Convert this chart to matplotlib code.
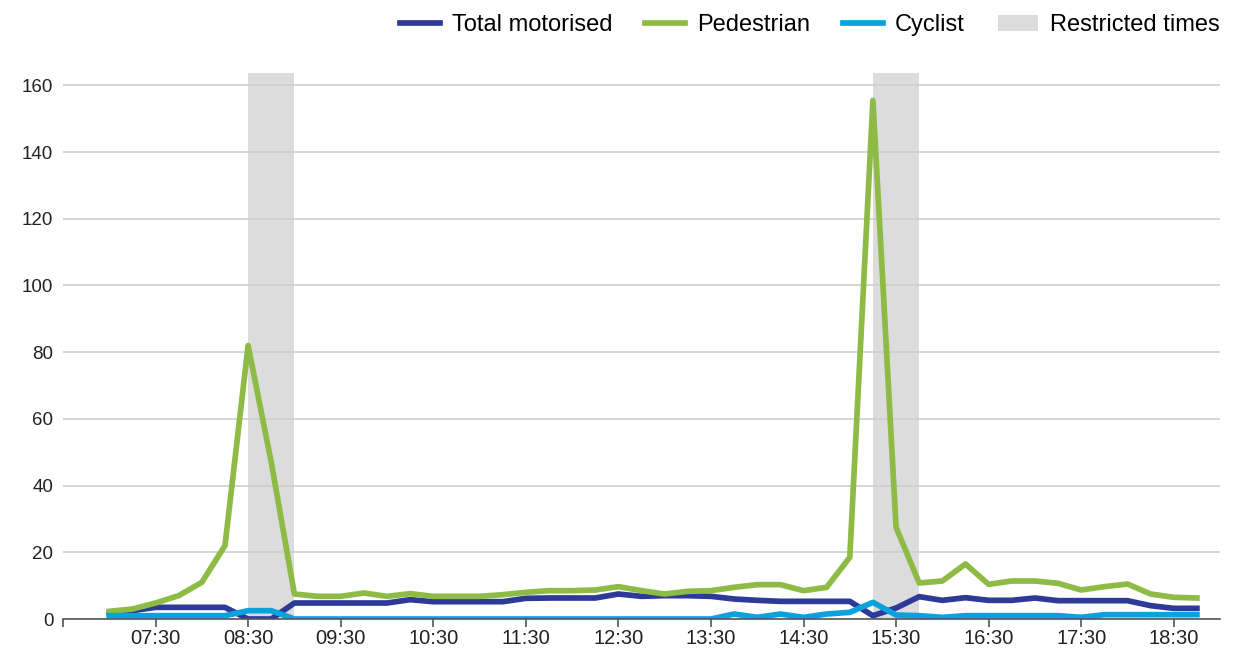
import numpy as np
import matplotlib
matplotlib.use("Agg")
import matplotlib.pyplot as plt

plt.rcParams['font.family'] = ['Liberation Sans', 'DejaVu Sans']

# 15-minute count periods, 07:00 to 18:45
times = ["%02d:%02d" % (7 + i // 4, 15 * (i % 4)) for i in range(48)]

pedestrian = [2.3, 3, 4.8, 7, 11, 22, 82, 47,
              7.5, 6.8, 6.8, 7.8, 6.8, 7.6, 6.8, 6.8,
              6.8, 7.3, 8, 8.5, 8.5, 8.7, 9.7, 8.5,
              7.5, 8.3, 8.5, 9.5, 10.3, 10.3, 8.5, 9.5,
              18.5, 155.5, 27.5, 10.8, 11.4, 16.5, 10.4, 11.4,
              11.4, 10.7, 8.7, 9.7, 10.5, 7.5, 6.5, 6.3]

motorised = [1.5, 2.5, 3.5, 3.5, 3.5, 3.5, 0, 0,
             4.8, 4.8, 4.8, 4.8, 4.8, 5.8, 5.2, 5.2,
             5.2, 5.2, 6.2, 6.3, 6.3, 6.3, 7.5, 6.8,
             7, 7, 6.8, 6, 5.6, 5.3, 5.3, 5.3,
             5.3, 1, 3.3, 6.7, 5.6, 6.4, 5.6, 5.6,
             6.3, 5.5, 5.5, 5.5, 5.5, 4, 3.2, 3.2]

cyclist = [1, 1, 1, 1, 1, 1, 2.5, 2.5,
           0, 0, 0, 0, 0, 0, 0, 0,
           0, 0, 0, 0, 0, 0, 0, 0,
           0, 0, 0, 1.5, 0.5, 1.5, 0.5, 1.5,
           2, 5, 1.2, 1, 0.5, 1, 1, 1,
           1, 1, 0.5, 1.3, 1.3, 1.3, 1.3, 1.3]

restricted = [("08:30", "09:00"), ("15:15", "15:45")]

tick_labels = ["", "07:30", "08:30", "09:30", "10:30", "11:30", "12:30",
               "13:30", "14:30", "15:30", "16:30", "17:30", "18:30"]


def to_hours(t):
    h, m = t.split(":")
    return int(h) + int(m) / 60.0


x = np.array([to_hours(t) for t in times])

fig = plt.figure(figsize=(12.4, 6.49), dpi=100)
ax = fig.add_axes([0.0508, 0.0462, 0.9331, 0.8413])

for start, end in restricted:
    ax.axvspan(to_hours(start), to_hours(end), color='#dcdcdc', lw=0,
               zorder=0.3, label='Restricted times' if start == restricted[0][0] else None)

ax.plot(x, motorised, color='#2e3a97', lw=4.1, label='Total motorised', zorder=2)
ax.plot(x, pedestrian, color='#8dbb45', lw=4.1, label='Pedestrian', zorder=3)
ax.plot(x, cyclist, color='#0aa2dd', lw=4.1, label='Cyclist', zorder=4)

ax.set_xlim(6.5, 19.0)
ax.set_ylim(0, 163.7)
ax.set_xticks([to_hours("06:30") + i for i in range(len(tick_labels))])
ax.set_xticklabels(tick_labels, fontsize=14.5, color='#222222')
ax.set_yticks(np.arange(0, 161, 20))
ax.tick_params(axis='y', length=0, labelsize=13.5, pad=7, colors='#222222')
ax.tick_params(axis='x', length=6, width=1.2, color='#555555', pad=1.5)

ax.set_axisbelow(True)
ax.grid(axis='y', color='#cccccc', lw=1.1)
for side in ['top', 'right', 'left']:
    ax.spines[side].set_visible(False)
ax.spines['bottom'].set_color('#555555')
ax.spines['bottom'].set_linewidth(1.2)
ax.spines['bottom'].set_zorder(5)

handles, labels = ax.get_legend_handles_labels()
order = [labels.index(n) for n in ['Total motorised', 'Pedestrian', 'Cyclist', 'Restricted times']]
fig.legend([handles[i] for i in order], [labels[i] for i in order],
           loc='upper right', bbox_to_anchor=(0.995, 1.0), ncol=4, frameon=False,
           fontsize=17, handlelength=1.7, handletextpad=0.5, columnspacing=1.4,
           borderaxespad=0.2)

fig.savefig('out.png', dpi=100)
